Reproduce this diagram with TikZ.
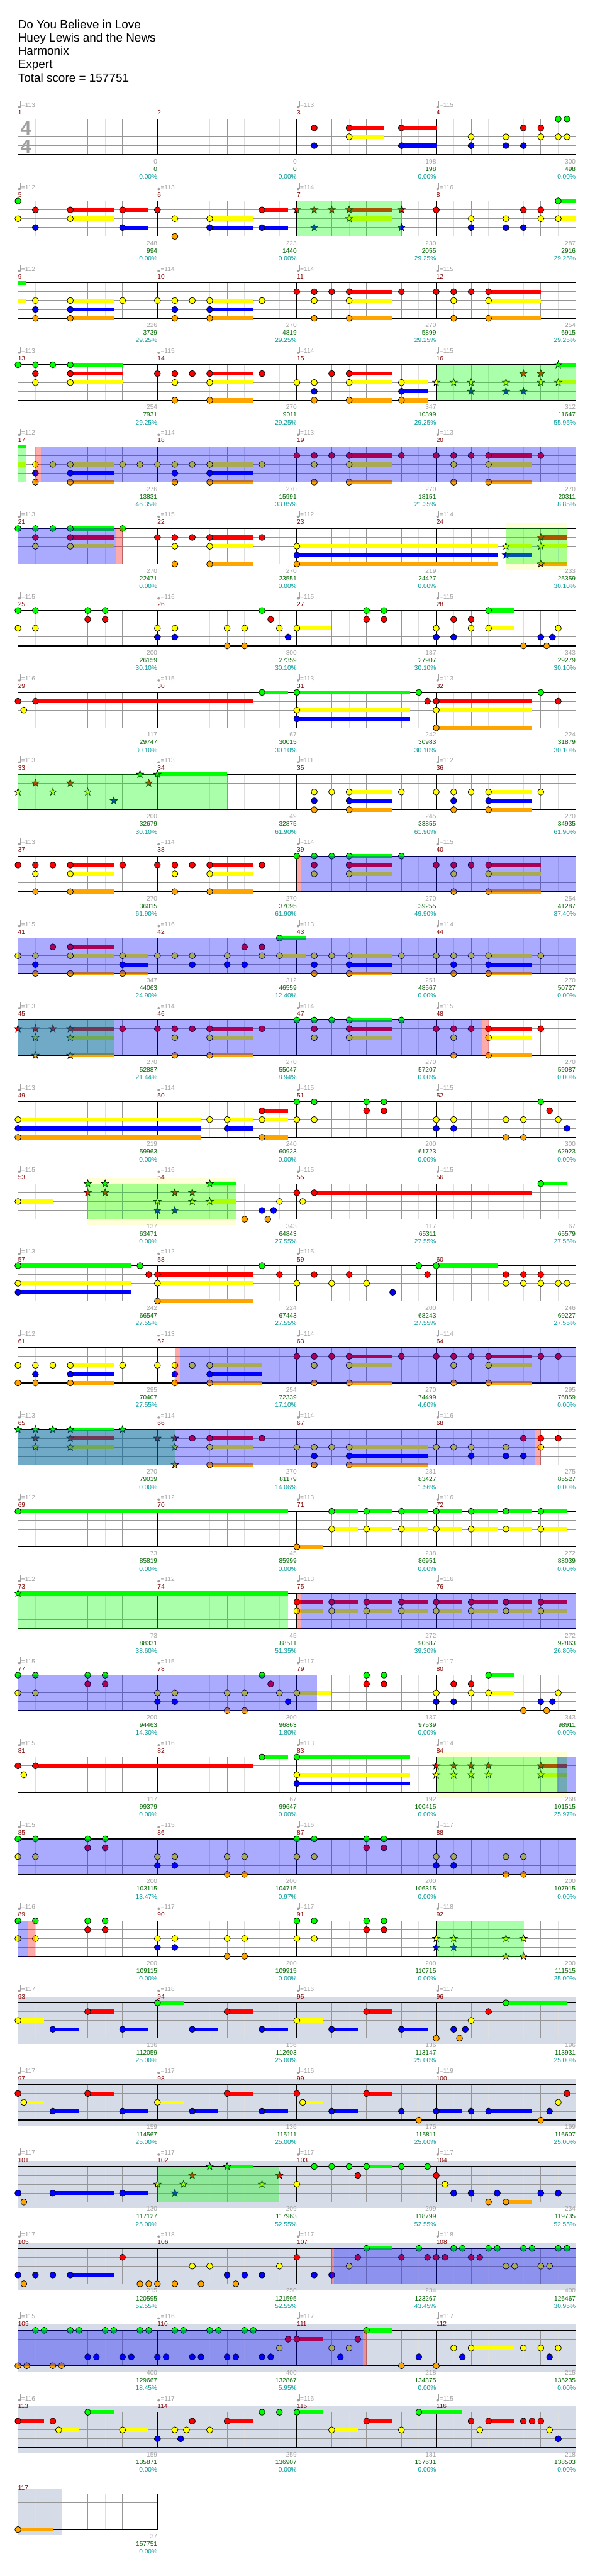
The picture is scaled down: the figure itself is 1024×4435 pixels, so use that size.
\documentclass[tikz,border=0pt]{standalone}
\usepackage{fontspec}
\setmainfont{Liberation Sans}
\usepackage{xcolor}
\usepackage{tikz}

\definecolor{lane0}{RGB}{0,255,0}
\definecolor{lane1}{RGB}{255,0,0}
\definecolor{lane2}{RGB}{255,255,0}
\definecolor{lane3}{RGB}{0,0,255}
\definecolor{lane4}{RGB}{255,165,0}
\definecolor{tempogray}{RGB}{160,160,160}
\definecolor{measred}{RGB}{128,0,0}
\definecolor{ptsgreen}{RGB}{0,100,0}
\definecolor{pctteal}{RGB}{0,153,153}
\definecolor{solobg}{RGB}{213,220,232}
\definecolor{whambg}{RGB}{255,255,215}
\definecolor{halfgray}{RGB}{222,222,222}
\definecolor{beatgray}{RGB}{150,150,150}

\newcommand\lblfont{\fontsize{11}{13}\selectfont}

\newcommand\staffgrid[2]{%
  \pgfmathsetmacro\gy{205+141*#1}%
  \pgfmathsetmacro\gr{31+60*#2}%
  \pgfmathtruncatemacro\gn{#2-1}%
  \foreach \k in {1,...,#2}{\draw[halfline] (60*\k+1,\gy) -- ++(0,61);}%
  \foreach \k in {1,...,\gn}{%
    \pgfmathtruncatemacro\mk{mod(\k,4)}%
    \ifnum\mk>0 \draw[beatline] (31+60*\k,\gy) -- ++(0,61);\fi}%
  \foreach \l in {1,2,3}{\draw[laneline] (31,\gy+15.25*\l) -- (\gr,\gy+15.25*\l);}%
  \foreach \k in {1,...,\gn}{%
    \pgfmathtruncatemacro\mk{mod(\k,4)}%
    \ifnum\mk=0 \draw[barline] (31+60*\k,\gy) -- ++(0,61);\fi}%
  \draw[frame] (31,\gy) rectangle (\gr,\gy+61);%
}

\newcommand\gemnote[4]{%
  \pgfmathsetmacro\nx{31+60*#2}%
  \pgfmathsetmacro\ny{205+141*#1+15.25*#3}%
  \ifdim #4 pt>0pt \fill[lane#3] (\nx,\ny-3.5) rectangle (31+60*#2+60*#4,\ny+3.5);\fi
  \filldraw[head, fill=lane#3] (\nx,\ny) circle[radius=5.3];%
}

\newcommand\stargem[4]{%
  \pgfmathsetmacro\nx{31+60*#2}%
  \pgfmathsetmacro\ny{205+141*#1+15.25*#3}%
  \ifdim #4 pt>0pt \fill[lane#3] (\nx,\ny-3.5) rectangle (31+60*#2+60*#4,\ny+3.5);\fi
  \filldraw[head, fill=lane#3, shift={(\nx,\ny)}] (270:6.6) -- (306:2.7) -- (342:6.6) -- (18:2.7) -- (54:6.6) -- (90:2.7) -- (126:6.6) -- (162:2.7) -- (198:6.6) -- (234:2.7) -- cycle;%
}

\begin{document}
\begin{tikzpicture}[x=1pt, y=-1pt,
  halfline/.style={draw=halfgray, line width=1pt},
  beatline/.style={draw=beatgray, line width=1pt},
  laneline/.style={draw=beatgray, line width=1pt},
  barline/.style={draw=black, line width=1pt},
  frame/.style={draw=black, line width=1.3pt},
  head/.style={draw=black, line width=0.8pt},
  spzone/.style={fill=lane0, fill opacity=0.333},
  odzone/.style={fill=lane3, fill opacity=0.333},
  actzone/.style={fill=lane1, fill opacity=0.333},
  solozone/.style={fill=solobg},
  whamzone/.style={fill=whambg},
  titlelbl/.style={font=\fontsize{20.5}{23}\selectfont, inner sep=0pt, anchor=base west},
  measlbl/.style={font=\lblfont, text=measred, inner sep=0pt, anchor=base west},
  tempolbl/.style={font=\lblfont, text=tempogray, inner sep=0pt, anchor=base west},
  ptslbl/.style={font=\lblfont, text=tempogray, inner sep=0pt, anchor=base east},
  totlbl/.style={font=\lblfont, text=ptsgreen, inner sep=0pt, anchor=base east},
  pctlbl/.style={font=\lblfont, text=pctteal, inner sep=0pt, anchor=base east},
  timesig/.style={font=\fontsize{33}{33}\selectfont\bfseries, text=tempogray, inner sep=0pt}
]
\fill[white] (0,0) rectangle (1024,4435);
\useasboundingbox (0,0) rectangle (1024,4435);

\node[titlelbl] (song) at (31,49) {Do You Believe in Love};
\node[titlelbl] (artist) at (31,72) {Huey Lewis and the News};
\node[titlelbl] (charter) at (31,95) {Harmonix};
\node[titlelbl] (level) at (31,118) {Expert};
\node[titlelbl] (total) at (31,141) {Total score = 157751};

\foreach \r in {23,...,28} {\fill[solozone] (31,195+141*\r) rectangle (991,276+141*\r);}
\fill[solozone] (31,4284) rectangle (106,4365);
\foreach \r/\ba/\bb in {5/14/15.75, 13/2/6.25, 20/12/15.75}
  {\fill[whamzone] (31+60*\ba,195+141*\r) rectangle (31+60*\bb,276+141*\r);}

\foreach \r in {0,...,28} {\staffgrid{\r}{16}}
\staffgrid{29}{4}

\node[timesig] (sigtop) at (44.5,221) {4};
\node[timesig] (sigbot) at (44.5,252) {4};

\foreach \r/\ba/\bb/\ls in {2/0/0.25/{0,2}, 4/0/0.25/{0,2}}
  {\foreach \l in \ls {\fill[lane\l] (31+60*\ba,201.5+141*\r+15.25*\l) rectangle (31+60*\bb,208.5+141*\r+15.25*\l);}}

\foreach \r/\b/\ls/\s in {
  0/8.5/{1,3}/0, 0/9.5/{1,2}/1, 0/11/{1,3}/1, 0/13/{2,3}/0, 0/14/{2,3}/0, 0/14.5/{1,3}/0, 0/15/{1,2}/0, 0/15.5/{0,2}/0, 0/15.75/{0,2}/0,
  1/0/{0,2}/0, 1/0.5/{1,3}/0, 1/1.5/{1,2}/1.25, 1/3/{1,3}/0.75, 1/4/1/0, 1/4.5/{2,4}/0, 1/5.5/{2,3}/1.25, 1/7/{1,3}/0.75, 1/12/1/0, 1/13/{2,3}/0, 1/14/{2,3}/0, 1/14.5/{1,3}/0, 1/15/{1,2}/0, 1/15.5/{0,2}/0.5,
  2/0.5/{2,3,4}/0, 2/1.5/{2,3,4}/1.25, 2/3/2/0, 2/4/2/0, 2/4.5/{2,3,4}/0, 2/5/2/0, 2/5.5/{2,3,4}/1.25, 2/7/2/0, 2/8/1/0, 2/8.5/{1,2,4}/0, 2/9/1/0, 2/9.5/{1,2,4}/1.25, 2/11/1/0, 2/12/1/0, 2/12.5/{1,2,4}/0, 2/13/1/0, 2/13.5/{1,2,4}/1.5,
  3/0/0/0, 3/0.5/{0,1,2}/0, 3/1/0/0, 3/1.5/{0,1,2}/1.5, 3/4/1/0, 3/4.5/{1,2,4}/0, 3/5/1/0, 3/5.5/{1,2,4}/1.25, 3/7/1/0, 3/8/2/0, 3/8.5/{2,3,4}/0, 3/9/1/0, 3/9.5/{1,2,4}/1.25, 3/11/{2,3,4}/0.75,
  4/0.5/{2,3,4}/0, 4/1/2/0, 4/1.5/{2,3,4}/1.25, 4/3/2/0, 4/3.5/2/0, 4/4/2/0, 4/4.5/{2,3,4}/0, 4/5/2/0, 4/5.5/{2,3,4}/1.25, 4/7/2/0, 4/8/1/0, 4/8.5/{1,2,4}/0, 4/9/1/0, 4/9.5/{1,2,4}/1.25, 4/11/1/0, 4/12/1/0, 4/12.5/{1,2,4}/0, 4/13/1/0, 4/13.5/{1,2,4}/1.25, 4/15/1/0,
  5/0/0/0, 5/0.5/{0,1,2}/0, 5/1/0/0, 5/1.5/{0,1,2}/1.25, 5/3/0/0, 5/4/1/0, 5/4.5/{1,2,4}/0, 5/5/1/0, 5/5.5/{1,2,4}/1.25, 5/7/1/0, 5/8/{2,3,4}/5.75,
  6/0/{0,2}/0, 6/0.5/{0,2}/0, 6/2/{0,1}/0, 6/2.5/{0,1}/0, 6/4/{2,3}/0, 6/4.5/{2,3}/0, 6/6/{2,4}/0, 6/6.5/{2,4}/0, 6/7/0/0, 6/7.25/1/0, 6/7.5/2/0, 6/7.75/3/0, 6/8/2/1, 6/10/{0,1}/0, 6/10.5/{0,1}/0, 6/12/{2,3}/0, 6/12.5/{1,3}/0, 6/13/{1,2}/0, 6/13.5/{0,2}/0.75, 6/14.5/4/0, 6/15/3/0, 6/15.167/4/0, 6/15.333/3/0, 6/15.5/2/0,
  7/0/1/0, 7/0.5/1/6.25, 7/0.167/2/0, 7/7/0/0.75, 7/8/{0,2,3}/3.25, 7/11.5/0/0, 7/11.75/1/0, 7/12/{1,2,4}/2.75, 7/15/0/0, 7/15.5/1/0,
  8/8.5/{2,3,4}/0, 8/9/2/0, 8/9.5/{2,3,4}/1.25, 8/11/2/0, 8/12/2/0, 8/12.5/{2,3,4}/0, 8/13/2/0, 8/13.5/{2,3,4}/1.25, 8/15/2/0,
  9/0/1/0, 9/0.5/{1,2,4}/0, 9/1/1/0, 9/1.5/{1,2,4}/1.25, 9/3/1/0, 9/4/1/0, 9/4.5/{1,2,4}/0, 9/5/1/0, 9/5.5/{1,2,4}/1.25, 9/7/1/0, 9/8/0/0, 9/8.5/{0,1,2}/0, 9/9/0/0, 9/9.5/{0,1,2}/1.25, 9/11/0/0, 9/12/1/0, 9/12.5/{1,2,4}/0, 9/13/1/0, 9/13.5/{1,2,4}/1.5,
  10/0/2/0, 10/0.5/{2,3,4}/0, 10/1/1/0, 10/1.5/{1,2,4}/1.25, 10/3/{2,3,4}/0.75, 10/4/2/0, 10/4.5/2/0, 10/5/{2,3}/0, 10/6/{2,3}/0, 10/6.5/{1,3}/0, 10/7/{1,2}/0, 10/7.5/{0,2}/0.75, 10/8.5/{2,3,4}/0, 10/9/2/0, 10/9.5/{2,3,4}/1.25, 10/11/2/0, 10/12/2/0, 10/12.5/{2,3,4}/0, 10/13/2/0, 10/13.5/{2,3,4}/1.25, 10/15/2/0,
  11/3/1/0, 11/4/1/0, 11/4.5/{1,2,4}/0, 11/5/1/0, 11/5.5/{1,2,4}/1.25, 11/7/1/0, 11/8/0/0, 11/8.5/{0,1,2}/0, 11/9/0/0, 11/9.5/{0,1,2}/1.25, 11/11/0/0, 11/12/1/0, 11/12.5/{1,2,4}/0, 11/13/1/0, 11/13.5/{1,2,4}/1.25, 11/15/1/0,
  12/0/{2,3,4}/5.25, 12/5.5/2/0, 12/6/{2,3}/0.75, 12/7/{1,2,4}/0.75, 12/8/{0,2}/0, 12/8.5/{0,2}/0, 12/10/{0,1}/0, 12/10.5/{0,1}/0, 12/12/{2,3}/0, 12/12.5/{2,3}/0, 12/14/{2,4}/0, 12/14.5/{2,4}/0, 12/15/0/0, 12/15.25/1/0, 12/15.5/2/0, 12/15.75/3/0,
  13/0/2/1, 13/6.5/4/0, 13/7/3/0, 13/7.167/4/0, 13/7.333/3/0, 13/7.5/2/0, 13/8/1/0, 13/8.167/2/0, 13/8.5/1/6.25, 13/15/0/0.75,
  14/0/{0,2,3}/3.25, 14/3.5/0/0, 14/3.75/1/0, 14/4/{1,2,4}/2.75, 14/7/0/0, 14/7.5/1/0, 14/8/2/0, 14/8.5/1/0, 14/9/2/0, 14/9.5/1/0, 14/10/2/0, 14/10.75/3/0, 14/11.5/0/0, 14/11.75/1/0, 14/12/0/1.75, 14/14/{1,2}/0, 14/14.5/{1,2}/0, 14/15/{1,2}/0, 14/15.5/2/0, 14/15.75/2/0,
  15/0/{2,4}/0, 15/0.5/{2,3,4}/0, 15/1/2/0, 15/1.5/{2,3,4}/1.25, 15/3/2/0, 15/4/2/0, 15/4.5/{2,3,4}/0, 15/5/2/0, 15/5.5/{2,3,4}/1.5, 15/8/1/0, 15/8.5/{1,2,4}/0, 15/9/1/0, 15/9.5/{1,2,4}/1.25, 15/11/1/0, 15/12/1/0, 15/12.5/{1,2,4}/0, 15/13/1/0, 15/13.5/{1,2,4}/1.25, 15/15/1/0, 15/15.5/1/0,
  16/5/1/0, 16/5.5/{1,2,4}/1.25, 16/7/1/0, 16/8/2/0, 16/8.5/{2,3,4}/0, 16/9/2/0, 16/9.5/{2,3,4}/2.25, 16/12/2/0, 16/12.5/2/0, 16/13/{2,3}/0, 16/14/{2,3}/0, 16/14.5/{1,3}/0, 16/15/{1,2}/0, 16/15.5/1/0,
  17/0/0/7.75, 17/8/4/0.75, 17/9/{0,2}/0.75, 17/10/{0,2}/0.75, 17/11/{0,2}/0.75, 17/12/{0,2}/0.75, 17/13/{0,2}/0.75, 17/14/{0,2}/0.75, 17/15/{0,2}/0.75,
  18/8/{1,2}/0.75, 18/9/{1,2}/0.75, 18/10/{1,2}/0.75, 18/11/{1,2}/0.75, 18/12/{1,2}/0.75, 18/13/{1,2}/0.75, 18/14/{1,2}/0.75, 18/15/{1,2}/0.75,
  19/0/{0,2}/0, 19/0.5/{0,2}/0, 19/2/{0,1}/0, 19/2.5/{0,1}/0, 19/4/{2,3}/0, 19/4.5/{2,3}/0, 19/6/{2,4}/0, 19/6.5/{2,4}/0, 19/7/0/0, 19/7.25/1/0, 19/7.5/2/0, 19/7.75/3/0, 19/8/2/1, 19/10/{0,1}/0, 19/10.5/{0,1}/0, 19/12/{2,3}/0, 19/12.5/{1,3}/0, 19/13/{1,2}/0, 19/13.5/{0,2}/0.75, 19/14.5/4/0, 19/15/3/0, 19/15.167/4/0, 19/15.333/3/0, 19/15.5/2/0,
  20/0/1/0, 20/0.5/1/6.25, 20/0.167/2/0, 20/7/0/0.75, 20/8/{0,2,3}/3.25,
  21/0/{0,2}/0, 21/0.5/{0,2}/0, 21/2/{0,1}/0, 21/2.5/{0,1}/0, 21/4/{2,3}/0, 21/4.5/{2,3}/0, 21/6/{2,4}/0, 21/6.5/{2,4}/0, 21/8/{0,2}/0, 21/8.5/{0,2}/0, 21/10/{0,1}/0, 21/10.5/{0,1}/0, 21/12/{2,3}/0, 21/12.5/{2,3}/0, 21/14/{2,4}/0, 21/14.5/{2,4}/0,
  22/0/{0,2}/0, 22/0.5/{0,2}/0, 22/2/{0,1}/0, 22/2.5/{0,1}/0, 22/4/{2,3}/0, 22/4.5/{2,3}/0, 22/6/{2,4}/0, 22/6.5/{2,4}/0, 22/8/{0,2}/0, 22/8.5/{0,2}/0, 22/10/{0,1}/0, 22/10.5/{0,1}/0,
  23/0/2/0.75, 23/1/3/0.75, 23/2/1/0.75, 23/3/3/0.75, 23/4/0/0.75, 23/5/3/0.75, 23/6/1/0.75, 23/7/3/0.75, 23/8/2/0.75, 23/9/3/0.75, 23/10/1/0.75, 23/11/3/0.75, 23/12/4/0, 23/12.5/3/0, 23/12.667/4/0, 23/12.833/3/0, 23/13/2/0, 23/13.5/1/0, 23/14/0/1.75,
  24/0/1/0, 24/0.167/2/0.583, 24/1/3/0.75, 24/2/1/0.75, 24/3/3/0.75, 24/4/2/0.75, 24/5/3/0.75, 24/6/1/0.75, 24/7/3/0.75, 24/8/1/0, 24/8.167/2/0.583, 24/9/3/0.75, 24/10/1/0.75, 24/11/3/0, 24/11.5/4/0, 24/12/3/0.75, 24/13/3/0, 24/13.5/3/1.25, 24/15/4/0, 24/15.25/3/0, 24/15.5/2/0, 24/15.75/1/0,
  25/0/3/0, 25/0.167/4/0, 25/1/3/1.75, 25/3/3/0.75, 25/8/2/0, 25/8.5/0/0, 25/9/0/0, 25/9.5/0/0, 25/9.75/1/0, 25/10/0/0.75, 25/11/0/0, 25/11.75/0/0, 25/12/1/0, 25/12.25/2/0, 25/12.5/3/0, 25/13/3/0, 25/13.5/4/0, 25/13.75/3/0, 25/14/4/0.75, 25/15/3/0, 25/15.5/3/0,
  26/0/3/0, 26/0.167/4/0, 26/0.5/3/0, 26/1/3/0, 26/1.5/3/1.25, 26/3/1/0, 26/3.5/4/0, 26/3.75/4/0, 26/4/4/0, 26/4.5/4/0, 26/5/2/0, 26/5.25/4/0, 26/5.5/2/0, 26/6/3/0, 26/6.25/4/0, 26/6.5/3/0, 26/7/3/0, 26/7.5/2/0, 26/8/1/0, 26/8.5/3/0, 26/9/3/0, 26/9.5/2/0, 26/9.75/1/0, 26/10/0/0.75, 26/11/1/0, 26/11.5/0/0, 26/11.75/1/0, 26/12/1/0, 26/12.25/1/0, 26/12.5/0/0, 26/12.75/0/0, 26/13/1/0, 26/13.25/1/0, 26/13.5/0/0, 26/13.75/0/0, 26/14/2/0, 26/14.25/2/0, 26/14.5/0/0, 26/14.75/0/0, 26/15/2/0, 26/15.25/2/0, 26/15.5/0/0, 26/15.75/0/0,
  27/0/4/0, 27/0.25/4/0, 27/0.5/0/0, 27/0.75/0/0, 27/1/4/0, 27/1.25/4/0, 27/1.5/0/0, 27/1.75/0/0, 27/2/3/0, 27/2.25/3/0, 27/2.5/0/0, 27/2.75/0/0, 27/3/3/0, 27/3.25/3/0, 27/3.5/0/0, 27/3.75/0/0, 27/4/3/0, 27/4.25/3/0, 27/4.5/0/0, 27/4.75/0/0, 27/5/3/0, 27/5.25/3/0, 27/5.5/0/0, 27/5.75/0/0, 27/6/3/0, 27/6.25/3/0, 27/6.5/0/0, 27/6.75/0/0, 27/7/3/0, 27/7.25/3/0, 27/7.5/2/0, 27/7.75/1/0, 27/8/1/0.75, 27/9/2/0, 27/9.25/3/0, 27/9.5/2/0, 27/9.75/1/0, 27/10/0/0.75, 27/11/4/0, 27/11.5/3/0, 27/12/4/0, 27/12.5/2/0, 27/12.75/3/0, 27/13/2/1.25, 27/14.5/2/0, 27/15/2/0, 27/15.25/3/0, 27/15.5/2/0,
  28/0/1/0.75, 28/1/1/0, 28/1.167/2/0.583, 28/2/0/0.75, 28/3/2/0.75, 28/4/3/0, 28/4.5/2/0, 28/4.667/3/0, 28/4.833/2/0, 28/5/1/0, 28/5.5/2/0, 28/6/1/0.75, 28/7/0/0, 28/7.5/0/0, 28/8/0/0.75, 28/9/2/0.75, 28/10/1/0.75, 28/11/2/0, 28/11.5/0/1.25, 28/13/1/0, 28/13.25/2/0, 28/13.5/1/0.75, 28/14.5/1/0, 28/14.75/1/0, 28/15/1/0, 28/15.25/2/0, 28/15.5/3/0,
  29/0/4/1}
  {\foreach \l in \ls {\gemnote{\r}{\b}{\l}{\s}}}

\foreach \r/\b/\ls/\s in {
  1/8/1/0, 1/8.5/{1,3}/0, 1/9/1/0, 1/9.5/{1,2}/1.25, 1/11/{1,3}/0,
  3/12/2/0, 3/12.5/2/0, 3/13/{2,3}/0, 3/14/{2,3}/0, 3/14.5/{1,3}/0, 3/15/{1,2}/0, 3/15.5/{0,2}/0.5,
  5/14/{2,3}/0.75, 5/15/{1,2,4}/0.75,
  8/0/2/0, 8/0.5/1/0, 8/1/2/0, 8/1.5/1/0, 8/2/2/0, 8/2.75/3/0, 8/3.5/0/0, 8/3.75/1/0, 8/4/0/2,
  11/0/1/0, 11/0.5/{1,2,4}/0, 11/1/1/0, 11/1.5/{1,2,4}/1.25,
  13/2/{0,1}/0, 13/2.5/{0,1}/0, 13/4/{2,3}/0, 13/4.5/{1,3}/0, 13/5/{1,2}/0, 13/5.5/{0,2}/0.75,
  16/0/0/0, 16/0.5/{0,1,2}/0, 16/1/0/0, 16/1.5/{0,1,2}/1.25, 16/3/0/0, 16/4/1/0, 16/4.5/{1,2,4}/0,
  18/0/0/7.75,
  20/12/{1,2}/0, 20/12.5/{1,2}/0, 20/13/{1,2}/0, 20/13.5/{1,2}/0, 20/15/{1,2}/0.75,
  22/12/{2,3}/0, 22/12.5/{2,3}/0, 22/14/{2,4}/0, 22/14.5/{2,4}/0,
  25/4/2/0, 25/4.5/3/0, 25/4.75/2/0, 25/5/1/0, 25/5.5/0/0, 25/6/0/0.75, 25/7/2/0, 25/7.5/1/0}
  {\foreach \l in \ls {\stargem{\r}{\b}{\l}{\s}}}

\foreach \r/\ba/\bb in {1/8/11, 3/12/16, 4/0/0.25, 5/14/15.75, 8/0/6, 11/0/2.75, 13/2/6.25, 16/0/4.5, 18/0/7.75, 20/12/15.75, 22/12/14.5, 25/4/7.5}
  {\fill[spzone] (31+60*\ba,205+141*\r) rectangle (31+60*\bb,266+141*\r);}
\foreach \r/\ba/\bb in {4/0.65/16, 5/0/2.83, 9/8.13/16, 10/0/16, 11/0/13.32, 15/4.65/16, 16/0/14.82, 18/8.13/16, 19/0/8.57, 20/15.47/16, 21/0/16, 22/0/0.3, 26/9.07/16, 27/0/9.9}
  {\fill[odzone] (31+60*\ba,205+141*\r) rectangle (31+60*\bb,266+141*\r);}
\foreach \r/\ba/\bb in {4/0.5/0.65, 5/2.83/3, 9/8/8.13, 11/13.32/13.5, 15/4.5/4.65, 16/14.82/15, 18/8/8.13, 22/0.3/0.5, 26/9/9.07, 27/9.9/10}
  {\fill[actzone] (31+60*\ba,205+141*\r) rectangle (31+60*\bb,266+141*\r);}

\foreach \m/\tp/\pa/\pb/\pc in {
  1/113/0/0/0.00, 2/0/0/0/0.00, 3/113/198/198/0.00, 4/115/300/498/0.00,
  5/112/248/994/0.00, 6/113/223/1440/0.00, 7/114/230/2055/29.25, 8/116/287/2916/29.25,
  9/112/226/3739/29.25, 10/114/270/4819/29.25, 11/114/270/5899/29.25, 12/115/254/6915/29.25,
  13/113/254/7931/29.25, 14/115/270/9011/29.25, 15/114/347/10399/29.25, 16/115/312/11647/55.95,
  17/112/276/13831/46.35, 18/114/270/15991/33.85, 19/113/270/18151/21.35, 20/113/270/20311/8.85,
  21/113/270/22471/0.00, 22/115/270/23551/0.00, 23/112/219/24427/0.00, 24/114/233/25359/30.10,
  25/115/200/26159/30.10, 26/116/300/27359/30.10, 27/115/137/27907/30.10, 28/115/343/29279/30.10,
  29/116/117/29747/30.10, 30/115/67/30015/30.10, 31/113/242/30983/30.10, 32/113/224/31879/30.10,
  33/113/200/32679/30.10, 34/113/49/32875/61.90, 35/111/245/33855/61.90, 36/112/270/34935/61.90,
  37/113/270/36015/61.90, 38/114/270/37095/61.90, 39/114/270/39255/49.90, 40/115/254/41287/37.40,
  41/115/347/44063/24.90, 42/116/312/46559/12.40, 43/113/251/48567/0.00, 44/114/270/50727/0.00,
  45/113/270/52887/21.44, 46/114/270/55047/8.94, 47/114/270/57207/0.00, 48/115/270/59087/0.00,
  49/113/219/59963/0.00, 50/114/240/60923/0.00, 51/115/200/61723/0.00, 52/115/300/62923/0.00,
  53/115/137/63471/0.00, 54/116/343/64843/27.55, 55/115/117/65311/27.55, 56/115/67/65579/27.55,
  57/113/242/66547/27.55, 58/112/224/67443/27.55, 59/115/200/68243/27.55, 60/0/246/69227/27.55,
  61/112/295/70407/27.55, 62/113/254/72339/17.10, 63/114/270/74499/4.60, 64/114/295/76859/0.00,
  65/113/270/79019/0.00, 66/114/270/81179/14.06, 67/114/281/83427/1.56, 68/116/275/85527/0.00,
  69/112/73/85819/0.00, 70/112/45/85999/0.00, 71/113/238/86951/0.00, 72/116/272/88039/0.00,
  73/112/73/88331/38.60, 74/112/45/88511/51.35, 75/113/272/90687/39.30, 76/116/272/92863/26.80,
  77/115/200/94463/14.30, 78/115/300/96863/1.80, 79/117/137/97539/0.00, 80/117/343/98911/0.00,
  81/115/117/99379/0.00, 82/116/67/99647/0.00, 83/113/192/100415/0.00, 84/114/268/101515/25.97,
  85/115/200/103115/13.47, 86/115/200/104715/0.97, 87/116/200/106315/0.00, 88/117/200/107915/0.00,
  89/116/200/109115/0.00, 90/117/200/109915/0.00, 91/117/200/110715/0.00, 92/118/200/111515/25.00,
  93/117/136/112059/25.00, 94/118/136/112603/25.00, 95/116/136/113147/25.00, 96/117/196/113931/25.00,
  97/117/159/114567/25.00, 98/117/136/115111/25.00, 99/116/175/115811/25.00, 100/119/199/116607/25.00,
  101/117/130/117127/25.00, 102/117/209/117963/52.55, 103/117/209/118799/52.55, 104/117/234/119735/52.55,
  105/117/215/120595/52.55, 106/118/250/121595/52.55, 107/117/234/123267/43.45, 108/118/400/126467/30.95,
  109/115/400/129667/18.45, 110/116/400/132867/5.95, 111/117/218/134375/0.00, 112/117/215/135235/0.00,
  113/116/159/135871/0.00, 114/117/259/136907/0.00, 115/116/181/137631/0.00, 116/115/218/138503/0.00,
  117/0/37/157751/0.00}
{
  \pgfmathtruncatemacro\rr{(\m-1)/4}
  \pgfmathtruncatemacro\cc{\m-1-4*\rr}
  \pgfmathsetmacro\mx{31+240*\cc}
  \pgfmathsetmacro\my{205+141*\rr}
  \node[measlbl] (meas\m) at (\mx,\my-7) {\m};
  \ifnum\tp>0
    \fill[tempogray] (\mx+2.3,\my-20.5) ellipse [x radius=2.4, y radius=1.9];
    \draw[tempogray, line width=0.9pt] (\mx+4.3,\my-20.5) -- (\mx+4.3,\my-31);
    \node[tempolbl] (tempo\m) at (\mx+5.5,\my-20) {=\tp};
  \fi
  \node[ptslbl] (pts\m) at (\mx+240,\my+76.7) {\pa};
  \node[totlbl] (tot\m) at (\mx+240,\my+89.7) {\pb};
  \node[pctlbl] (pct\m) at (\mx+240,\my+103) {\pc\%};
}
\end{tikzpicture}
\end{document}
